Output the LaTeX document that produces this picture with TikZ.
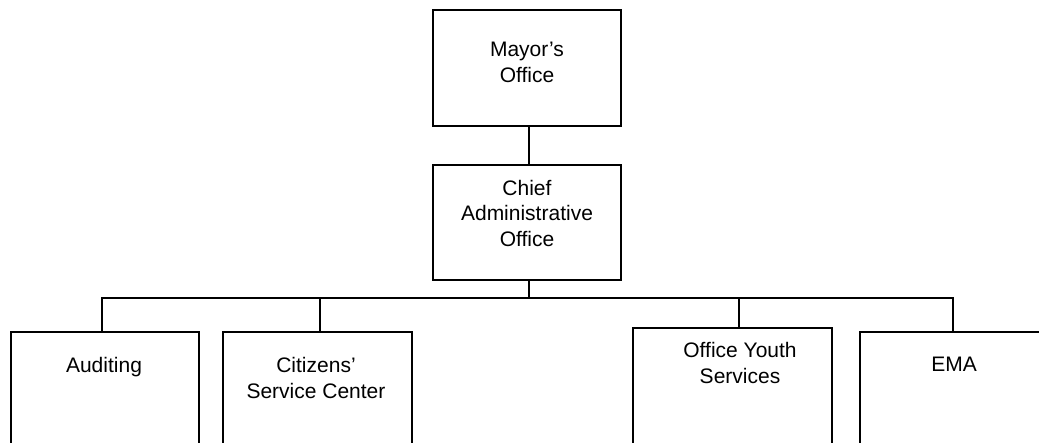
\documentclass[tikz,border=0pt]{standalone}
\usepackage{fontspec}
\setmainfont{Liberation Sans}
\begin{document}
\begin{tikzpicture}[x=1pt,y=-1pt,
  box/.style={draw=black,line width=1.6pt,fill=none,inner sep=0pt,minimum width=#1},
  lbl/.style={font=\fontsize{21}{25.7}\selectfont,align=center,inner sep=0pt,anchor=base},
  wire/.style={draw=black,line width=1.6pt}]
\useasboundingbox (0,0) rectangle (1039,442);
\clip (0,0) rectangle (1039,442);
% boxes
\node[box=188pt,minimum height=116pt] (mayor) at (527,68) {};
\node[box=188pt,minimum height=115pt] (cao) at (527,222.5) {};
\node[box=188pt,minimum height=140pt] (aud) at (105,402) {};
\node[box=189pt,minimum height=140pt] (csc) at (317.5,402) {};
\node[box=199pt,minimum height=140pt] (oys) at (732.5,398) {};
\node[box=190pt,minimum height=140pt] (ema) at (955,402) {};
% texts (anchor = baseline of last line)
\node[lbl] (mayor-t) at (527,82) {Mayor’s\\Office};
\node[lbl] (cao-t) at (527,246.5) {Chief\\Administrative\\Office};
\node[lbl] (aud-t) at (104,372) {Auditing};
\node[lbl] (csc-t) at (316,398) {Citizens’\\Service Center};
\node[lbl] (oys-t) at (740,383) {Office Youth\\Services};
\node[lbl] (ema-t) at (954,371) {EMA};
% connectors
\coordinate (spine) at (529,0);
\coordinate (bus) at (529,298);
\coordinate (dA) at (102,298);
\coordinate (dB) at (320,298);
\coordinate (dC) at (739,298);
\coordinate (dD) at (953,298);
\draw[wire] (spine |- mayor.south) -- (spine |- cao.north);
\draw[wire] (spine |- cao.south) -- (bus);
\draw[wire] (dA |- aud.north) -- (dA) -- (dD) -- (dD |- ema.north);
\draw[wire] (dB) -- (dB |- csc.north);
\draw[wire] (dC) -- (dC |- oys.north);
\end{tikzpicture}
\end{document}
